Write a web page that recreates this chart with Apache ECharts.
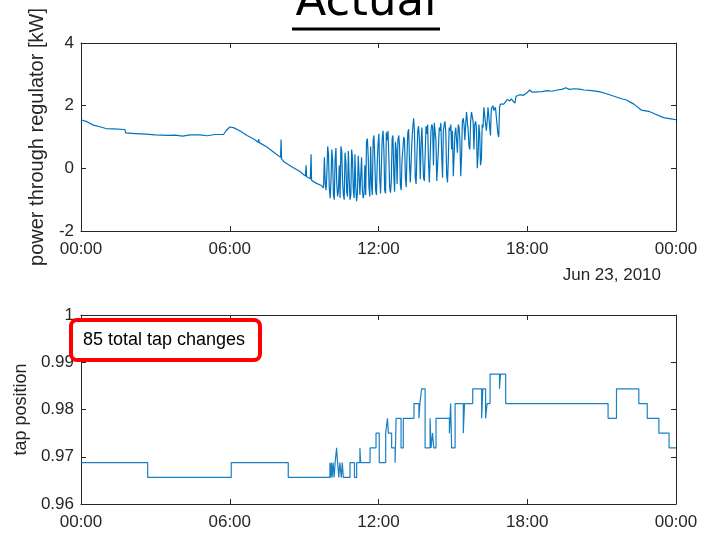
<!DOCTYPE html>
<html><head><meta charset="utf-8">
<script src="https://cdn.jsdelivr.net/npm/echarts@6/dist/echarts.min.js"></script>
<style>html,body{margin:0;padding:0;background:#fff;overflow:hidden}#c{width:702px;height:533px}</style>
</head><body><div id="c"></div>
<script>
// ---- data ----
const xTickLabels = ['00:00', '06:00', '12:00', '18:00', '00:00'];
const dateLabel = 'Jun 23, 2010';
const titleText = 'Actual';
const annotationText = '85 total tap changes';

// power through regulator [kW] : [hour, kW]
const powerEarly = [
  [0, 1.55], [0.2, 1.5], [0.5, 1.38], [0.8, 1.32], [1.0, 1.27], [1.3, 1.26], [1.77, 1.24], [1.8, 1.13],
  [2.2, 1.11], [2.6, 1.09], [3.0, 1.07], [3.5, 1.05], [3.8, 1.06], [4.1, 1.03], [4.4, 1.07], [4.8, 1.07],
  [5.1, 1.04], [5.4, 1.08], [5.75, 1.08], [5.8, 1.12], [5.85, 1.2], [5.9, 1.17], [6.0, 1.32], [6.15, 1.3],
  [6.4, 1.2], [6.7, 1.05], [7.0, 0.92], [7.15, 0.83], [7.17, 0.93], [7.19, 0.82], [7.5, 0.68], [7.8, 0.5],
  [8.05, 0.35], [8.07, 0.92], [8.09, 0.3], [8.2, 0.2], [8.5, 0.05], [8.83, -0.1], [9.05, -0.25], [9.08, 0.1],
  [9.1, -0.27], [9.25, -0.33], [9.28, 0.45], [9.3, -0.38], [9.5, -0.48], [9.7, -0.55]
];
// noisy midday section, sampled every 2 minutes from 09:45 (one row = 30 min)
const noisyStart = 9.75, noisyStep = 2 / 60;
const powerNoisy = [
  -0.50, -0.62, 0.35, -0.45, -0.70, -0.20, 0.70, 0.45, -0.65, -0.95, -0.40, 0.60, 0.25, -0.85, -1.00,
  0.30, 0.65, -0.50, -0.90, -0.70, 0.10, -0.95, 0.70, 0.55, -0.40, -0.85, -1.00, 0.50, 0.20, -0.75,
  -0.90, 0.55, -0.30, -1.00, -0.85, 0.60, 0.35, -0.70, -0.95, 0.45, -0.60, -1.05, -0.80, 0.40, -0.20,
  -0.85, -0.90, 0.35, -0.70, -0.95, -0.80, 0.10, -0.85, 0.85, 0.95, 0.40, -0.60, -0.90, 0.70, -0.50,
  -0.85, 0.90, 1.05, 0.30, -0.70, -0.85, 0.20, 0.80, 1.10, -0.30, -0.80, -0.75, 0.95, 1.20, 0.60,
  -0.70, -0.80, 1.15, 0.90, 1.20, 0.40, -0.60, -0.78, -0.40, 0.95, 1.05, -0.20, -0.75, 0.85, 0.60,
  -0.50, 0.90, 1.05, 0.70, -0.55, -0.70, 0.30, 0.60, 1.00, 0.90, -0.30, -0.60, 0.40, 1.15, 1.25,
  0.20, -0.45, -0.50, 0.90, 1.30, 1.60, 1.20, -0.30, -0.50, 0.40, 1.20, 1.35, 0.90, -0.35, 0.80,
  1.30, 1.25, -0.30, -0.40, 0.50, 1.35, 1.10, 1.40, 0.20, -0.45, -0.40, 1.20, 1.40, 1.30, 0.10,
  1.45, 1.50, 0.90, -0.40, -0.45, 0.60, 1.30, 1.20, 1.45, 0.40, -0.30, 1.20, 1.40, 1.50, 1.10,
  -0.20, -0.45, 0.30, 1.30, 1.20, 1.40, 0.60, 1.20, -0.25, -0.20, 1.10, 1.30, 1.25, 0.50, 1.40,
  1.30, 0.90, -0.25, 0.40, 1.50, 1.60, 1.40, 0.90, 1.40, 1.80, 1.75, 1.20, 0.70, 0.60, 1.50,
  1.80, 1.85, 1.50, 0.60, 1.40, 1.50, 1.30, 0.00, 0.40, 1.40, 1.10, 0.10, 0.30, 1.40, 1.30,
  1.95, 2.00, 1.90, 1.20, 1.50, 1.95, 2.00, 1.90, 1.05, 1.90, 1.95, 2.00, 1.85, 1.90, 1.95,
  1.90, 2.00, 1.10, 1.00, 1.95, 2.05, 2.00, 2.10
];
const powerLate = [
  [17.05, 2.05], [17.2, 2.2], [17.3, 2.15], [17.35, 2.22], [17.5, 2.08], [17.55, 2.3], [17.7, 2.35],
  [17.85, 2.33], [18.0, 2.42], [18.1, 2.5], [18.2, 2.43], [18.4, 2.44], [18.6, 2.45], [18.8, 2.48],
  [19.0, 2.46], [19.2, 2.5], [19.4, 2.52], [19.55, 2.57], [19.7, 2.52], [19.9, 2.54], [20.1, 2.53],
  [20.3, 2.5], [20.6, 2.48], [20.9, 2.45], [21.2, 2.38], [21.5, 2.3], [21.8, 2.22], [22.0, 2.18],
  [22.3, 2.05], [22.6, 1.86], [22.9, 1.82], [23.2, 1.72], [23.5, 1.62], [23.8, 1.58], [24.0, 1.55]
];

// tap position changes: [hour, new tap position]
const tapSteps = [
  [0, 0.96875], [2.69, 0.965625], [6.06, 0.96875], [8.36, 0.965625],
  [10.04, 0.96875], [10.07, 0.965625], [10.10, 0.96875], [10.13, 0.965625], [10.17, 0.96875],
  [10.21, 0.965625], [10.25, 0.96875], [10.31, 0.971875], [10.35, 0.96875], [10.40, 0.965625],
  [10.44, 0.96875], [10.50, 0.965625], [10.54, 0.96875], [10.58, 0.965625],
  [10.85, 0.96875], [11.03, 0.965625], [11.12, 0.96875], [11.25, 0.971875], [11.28, 0.96875],
  [11.66, 0.971875], [11.90, 0.975], [12.03, 0.96875], [12.29, 0.975], [12.36, 0.978125],
  [12.40, 0.975], [12.53, 0.971875], [12.67, 0.96875], [12.71, 0.978125], [12.91, 0.971875],
  [13.0, 0.978125], [13.43, 0.98125], [13.63, 0.978125], [13.67, 0.98125], [13.74, 0.984375],
  [13.88, 0.971875], [14.08, 0.978125], [14.12, 0.971875], [14.18, 0.975], [14.23, 0.971875],
  [14.32, 0.978125], [14.86, 0.975], [14.91, 0.98125], [14.95, 0.971875], [15.09, 0.98125],
  [15.42, 0.975], [15.47, 0.98125], [15.80, 0.984375], [16.16, 0.978125], [16.21, 0.984375],
  [16.32, 0.978125], [16.38, 0.98125], [16.50, 0.9875], [16.88, 0.984375], [16.92, 0.9875],
  [17.13, 0.98125], [21.26, 0.978125], [21.60, 0.984375], [22.50, 0.98125], [22.84, 0.978125],
  [23.31, 0.975], [23.72, 0.971875], [24, 0.971875]
];

// ---- build ----
const powerData = powerEarly
  .concat(powerNoisy.map((v, i) => [noisyStart + i * noisyStep, v]))
  .concat(powerLate);

const AX = '#262626';
const FONT = 'Liberation Sans, Arial, sans-serif';
const lineColor = '#0072BD';

function xAx(grid, pos, showLabel) {
  return {
    gridIndex: grid, type: 'value', position: pos, min: 0, max: 24, interval: 6,
    axisLine: { show: true, onZero: false, lineStyle: { color: AX, width: 1 } },
    axisTick: { show: true, inside: true, length: 5, lineStyle: { color: AX } },
    axisLabel: {
      show: showLabel, fontSize: 17, color: AX, fontFamily: FONT, margin: 10,
      formatter: v => xTickLabels[Math.round(v / 6)]
    },
    splitLine: { show: false }
  };
}
function yAx(grid, pos, showLabel, min, max, interval, name, gap, nameSize) {
  return {
    gridIndex: grid, type: 'value', position: pos, min: min, max: max, interval: interval,
    name: showLabel ? name : '', nameLocation: 'middle', nameGap: gap,
    nameTextStyle: { fontSize: nameSize || 18, color: AX, fontFamily: FONT },
    axisLine: { show: true, onZero: false, lineStyle: { color: AX, width: 1 } },
    axisTick: { show: true, inside: true, length: 5, lineStyle: { color: AX } },
    axisLabel: { show: showLabel, fontSize: 17, color: AX, fontFamily: FONT, margin: 7 },
    splitLine: { show: false }
  };
}

const chart = echarts.init(document.getElementById('c'), null, { renderer: 'canvas' });
chart.setOption({
  animation: false,
  backgroundColor: '#fff',
  grid: [
    { left: 81, right: 26, top: 43, height: 188 },
    { left: 81, right: 26, top: 315, height: 189 }
  ],
  xAxis: [xAx(0, 'bottom', true), xAx(0, 'top', false), xAx(1, 'bottom', true), xAx(1, 'top', false)],
  yAxis: [
    yAx(0, 'left', true, -2, 4, 2, 'power through regulator [kW]', 23, 20),
    yAx(0, 'right', false, -2, 4, 2, '', 0),
    yAx(1, 'left', true, 0.96, 1, 0.01, 'tap position', 50, 18),
    yAx(1, 'right', false, 0.96, 1, 0.01, '', 0)
  ],
  series: [
    {
      type: 'line', xAxisIndex: 0, yAxisIndex: 0, data: powerData, showSymbol: false,
      lineStyle: { color: lineColor, width: 1.2 }, itemStyle: { color: lineColor }
    },
    {
      type: 'line', xAxisIndex: 2, yAxisIndex: 2, data: tapSteps, step: 'end', showSymbol: false,
      lineStyle: { color: lineColor, width: 1.2, opacity: 0.9 }, itemStyle: { color: lineColor }
    }
  ],
  graphic: [
    { type: 'text', x: 366, y: 26, style: { text: titleText, font: '45px "DejaVu Sans"', fill: '#000', textAlign: 'center', textVerticalAlign: 'bottom' } },
    { type: 'line', shape: { x1: 292, y1: 29, x2: 440, y2: 29 }, style: { stroke: '#000', lineWidth: 3 } },
    { type: 'text', x: 661, y: 275, style: { text: dateLabel, font: '17px ' + FONT, fill: AX, textAlign: 'right', textVerticalAlign: 'middle' } },
    { type: 'rect', shape: { x: 71, y: 320, width: 189, height: 40, r: 6 }, style: { fill: '#fff', stroke: '#f00', lineWidth: 4 }, z: 100 },
    { type: 'text', x: 83, y: 340, style: { text: annotationText, font: '18px ' + FONT, fill: '#000', textVerticalAlign: 'middle' }, z: 101 }
  ]
});
</script>
</body></html>
